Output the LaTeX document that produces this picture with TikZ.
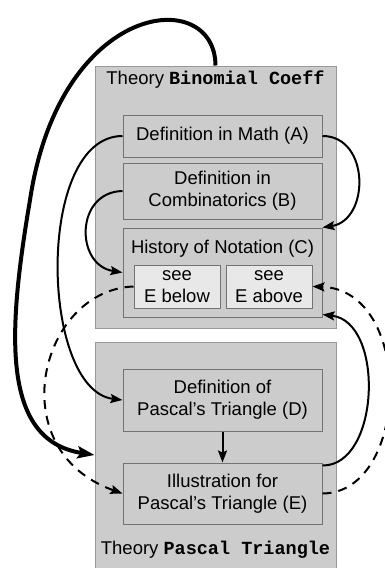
\documentclass[tikz,border=0pt]{standalone}
\usepackage{fontspec}
\setmainfont{Liberation Sans}
\setmonofont{Liberation Mono}
\usepackage{xcolor}
\usetikzlibrary{positioning,arrows.meta}

\definecolor{boxfill}{HTML}{CCCCCC}
\definecolor{boxline}{HTML}{999999}
\definecolor{subfill}{HTML}{E8E8E8}

\tikzset{
  theory/.style={rectangle, draw=boxline, fill=boxfill, line width=1pt},
  part/.style={rectangle, draw=gray!90!black, fill=boxfill, line width=1pt,
    minimum width=199pt, align=center},
  subpart/.style={rectangle, draw=gray!90!black, fill=subfill, line width=1pt,
    minimum width=86pt, minimum height=43pt, align=center, inner sep=0pt},
  link/.style={-{Stealth[length=12pt,width=9pt,inset=2pt]}, line width=2pt},
  biglink/.style={-{Stealth[length=17pt,width=12pt,inset=3pt]}, line width=4pt},
  seelink/.style={link, dash pattern=on 9pt off 7pt},
}

\begin{document}
\begin{tikzpicture}[x=1pt, y=-1pt, font=\fontsize{18.5}{22}\selectfont]
    \useasboundingbox (0,0) rectangle (385,568);

    % the two theories
    \node[theory, minimum width=241pt, minimum height=262pt] (binomial) at (215.5,197) {};
    \node[theory, minimum width=241pt, minimum height=232pt] (pascal) at (215.5,458) {};
    \node (binomialtitle) at (215.5,80) {Theory \texttt{\bfseries Binomial Coeff}};
    \node (pascaltitle) at (215.5,550) {Theory \texttt{\bfseries Pascal Triangle}};

    % parts of Binomial Coeff
    \node[part, minimum height=42pt] (A) at (222.5,136) {Definition in Math (A)};
    \node[part, minimum height=56pt] (B) at (222.5,191) {Definition in\\Combinatorics (B)};
    \node[part, minimum height=89pt] (C) at (222.5,272.5) {};
    \node (Ctitle) at (222.5,249) {History of Notation (C)};
    \node[subpart] (seebelow) at (177,286.5) {see\\E below};
    \node[subpart] (seeabove) at (269,286.5) {see\\E above};

    % parts of Pascal Triangle
    \node[part, minimum height=62pt] (D) at (222.5,400) {Definition of\\Pascal's Triangle (D)};
    \node[part, minimum height=61pt] (E) at (222.5,493.5) {Illustration for\\Pascal's Triangle (E)};

    % links
    \draw[biglink] (binomial.north) .. controls (215,-15) and (60,0) .. (30,200)
        .. controls (8,330) and (0,440) .. (pascal.west |- 0,455);
    \draw[link] (A.west) .. controls (35,136) and (40,390) .. (D.west);
    \draw[link] (A.east) .. controls (370,136) and (370,220) .. (C.north east);
    \draw[link] (B.west) .. controls (75,192) and (75,265) .. (C.west);
    \draw[link] (D.south) -- (E.north);
    \draw[link] ([yshift=-3pt]E.north east) .. controls (380,466) and (385,322) .. ([yshift=3pt]C.south east);
    \draw[seelink] (seebelow.west) .. controls (40,290) and (0,450) .. (E.west);
    \draw[seelink] (E.east) .. controls (410,493) and (415,290) .. (seeabove.east);
\end{tikzpicture}
\end{document}
